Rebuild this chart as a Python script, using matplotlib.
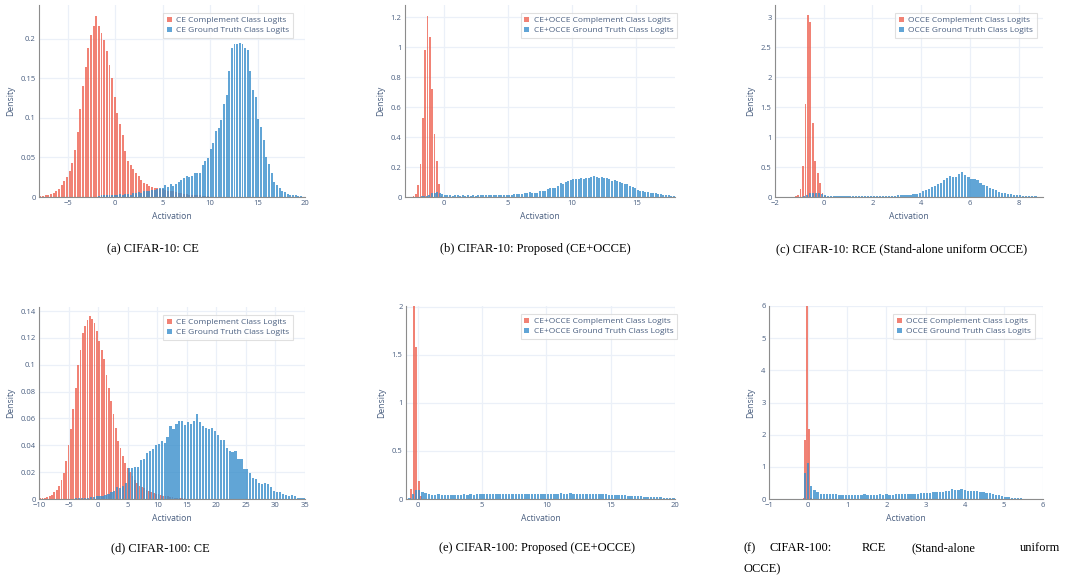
import numpy as np
import matplotlib.pyplot as plt
from matplotlib.ticker import FuncFormatter

W, H = 1068, 579

# ---- histogram densities (bin start, bin width, heights) ----
# (a) CIFAR-10: CE
a_red_start, a_red_bin = -8.0, 0.28
a_red = [0.001, 0.001, 0.002, 0.003, 0.004, 0.005, 0.007, 0.010, 0.015, 0.020,
         0.025, 0.033, 0.043, 0.060, 0.082, 0.112, 0.140, 0.165, 0.188, 0.205,
         0.216, 0.229, 0.217, 0.208, 0.199, 0.185, 0.167, 0.150, 0.126, 0.106,
         0.093, 0.079, 0.058, 0.046, 0.041, 0.036, 0.031, 0.026, 0.022, 0.018,
         0.016, 0.014, 0.013, 0.012, 0.011, 0.010, 0.010, 0.009, 0.008, 0.007,
         0.007, 0.006, 0.005, 0.005, 0.004, 0.004, 0.003, 0.003, 0.002, 0.002,
         0.002, 0.001, 0.001, 0.001]
a_blue_start, a_blue_bin = -1.84, 0.28
a_blue = [0.001, 0.002, 0.002, 0.002, 0.003, 0.002, 0.003, 0.003, 0.004, 0.003,
          0.004, 0.004, 0.003, 0.005, 0.005, 0.006, 0.005, 0.007, 0.008, 0.007,
          0.009, 0.009, 0.010, 0.011, 0.012, 0.015, 0.013, 0.016, 0.014, 0.017,
          0.019, 0.021, 0.024, 0.026, 0.025, 0.027, 0.030, 0.031, 0.031, 0.040,
          0.046, 0.049, 0.061, 0.068, 0.083, 0.087, 0.098, 0.118, 0.129, 0.160,
          0.188, 0.194, 0.194, 0.195, 0.194, 0.188, 0.186, 0.160, 0.135, 0.127,
          0.099, 0.089, 0.072, 0.051, 0.042, 0.030, 0.019, 0.015, 0.011, 0.008,
          0.006, 0.004, 0.003, 0.002, 0.002, 0.001, 0.001]

# (b) CIFAR-10: CE+OCCE
b_red_start, b_red_bin = -2.42, 0.18
b_red = [0.004, 0.02, 0.08, 0.22, 0.53, 0.98, 1.21, 1.07, 0.72, 0.42, 0.24, 0.09, 0.01]
b_blue_start, b_blue_bin = -2.0, 0.2
b_blue = [0.002, 0.004, 0.006, 0.010, 0.016, 0.024, 0.030, 0.032, 0.028, 0.022,
          0.016, 0.014, 0.012, 0.010, 0.011, 0.013, 0.010, 0.011, 0.010, 0.011,
          0.010, 0.011, 0.010, 0.012, 0.013, 0.012, 0.013, 0.012, 0.013, 0.012,
          0.013, 0.014, 0.013, 0.014, 0.015, 0.014, 0.016, 0.018, 0.020, 0.019,
          0.021, 0.025, 0.029, 0.031, 0.030, 0.029, 0.030, 0.038, 0.040, 0.043,
          0.052, 0.058, 0.063, 0.062, 0.076, 0.094, 0.090, 0.101, 0.108, 0.112,
          0.118, 0.120, 0.121, 0.125, 0.122, 0.128, 0.130, 0.132, 0.140, 0.136,
          0.125, 0.135, 0.128, 0.129, 0.117, 0.108, 0.112, 0.110, 0.102, 0.096,
          0.090, 0.086, 0.075, 0.064, 0.057, 0.050, 0.043, 0.040, 0.036, 0.032,
          0.030, 0.027, 0.025, 0.021, 0.020, 0.016, 0.013, 0.011, 0.008, 0.007]

# (c) CIFAR-10: RCE
c_red_start, c_red_bin = -1.2, 0.1
c_red = [0.01, 0.03, 0.13, 0.52, 1.55, 3.04, 2.92, 1.24, 0.61, 0.40, 0.23, 0.06, 0.01]
c_blue_start, c_blue_bin = -1.0, 0.125
c_blue = [0.002, 0.010, 0.040, 0.065, 0.070, 0.068, 0.060, 0.045, 0.032, 0.025,
          0.022, 0.020, 0.018, 0.017, 0.016, 0.015, 0.016, 0.015, 0.015, 0.014,
          0.015, 0.014, 0.015, 0.016, 0.017, 0.016, 0.018, 0.019, 0.021, 0.022,
          0.024, 0.025, 0.026, 0.028, 0.030, 0.033, 0.036, 0.042, 0.055, 0.070,
          0.100, 0.115, 0.140, 0.165, 0.190, 0.215, 0.240, 0.280, 0.310, 0.350,
          0.340, 0.335, 0.380, 0.410, 0.370, 0.335, 0.300, 0.300, 0.290, 0.240,
          0.200, 0.180, 0.145, 0.140, 0.110, 0.090, 0.070, 0.060, 0.050, 0.045,
          0.038, 0.030, 0.028, 0.022, 0.020, 0.015, 0.012, 0.010, 0.008, 0.006]

# (d) CIFAR-100: CE
d_red_start, d_red_bin = -10.0, 0.4
d_red = [0.0005, 0.0005, 0.001, 0.0015, 0.002, 0.003, 0.005, 0.007, 0.010, 0.014,
         0.019, 0.028, 0.040, 0.052, 0.067, 0.083, 0.100, 0.111, 0.124, 0.129,
         0.133, 0.136, 0.134, 0.131, 0.125, 0.118, 0.111, 0.104, 0.092, 0.083,
         0.073, 0.063, 0.053, 0.043, 0.038, 0.032, 0.027, 0.023, 0.020, 0.017,
         0.014, 0.012, 0.010, 0.009, 0.008, 0.007, 0.006, 0.005, 0.0045, 0.004,
         0.0035, 0.003, 0.0025, 0.002, 0.002, 0.0015, 0.0015, 0.001, 0.001, 0.001,
         0.0005, 0.0005]
d_blue_start, d_blue_bin = -5.0, 0.5
d_blue = [0.0003, 0.0003, 0.0005, 0.0005, 0.001, 0.0008, 0.001, 0.0012, 0.0015, 0.002,
          0.002, 0.0025, 0.003, 0.004, 0.005, 0.006, 0.009, 0.008, 0.010, 0.012,
          0.023, 0.023, 0.024, 0.024, 0.029, 0.030, 0.034, 0.036, 0.037, 0.040,
          0.041, 0.043, 0.042, 0.046, 0.054, 0.052, 0.056, 0.058, 0.058, 0.055,
          0.057, 0.056, 0.058, 0.063, 0.057, 0.054, 0.053, 0.052, 0.053, 0.051,
          0.048, 0.044, 0.044, 0.038, 0.036, 0.035, 0.036, 0.030, 0.030, 0.022,
          0.022, 0.019, 0.016, 0.015, 0.012, 0.011, 0.012, 0.011, 0.009, 0.006,
          0.005, 0.005, 0.004, 0.003, 0.002, 0.003, 0.002, 0.001, 0.001, 0.0005]

# (e) CIFAR-100: CE+OCCE
e_red_start, e_red_bin = -0.8, 0.2
e_red = [0.005, 0.10, 2.4, 1.58, 0.19, 0.03]
e_blue_start, e_blue_bin = -0.75, 0.25
e_blue = [0.010, 0.050, 0.090, 0.093, 0.075, 0.058, 0.050, 0.045, 0.045, 0.047,
          0.046, 0.045, 0.046, 0.044, 0.045, 0.046, 0.046, 0.047, 0.045, 0.047,
          0.045, 0.048, 0.048, 0.047, 0.048, 0.047, 0.053, 0.052, 0.049, 0.050,
          0.049, 0.051, 0.053, 0.052, 0.053, 0.052, 0.053, 0.054, 0.055, 0.054,
          0.055, 0.055, 0.054, 0.056, 0.057, 0.057, 0.056, 0.058, 0.055, 0.057,
          0.058, 0.056, 0.054, 0.057, 0.056, 0.054, 0.053, 0.052, 0.052, 0.050,
          0.049, 0.047, 0.046, 0.046, 0.043, 0.040, 0.038, 0.037, 0.035, 0.033,
          0.030, 0.029, 0.027, 0.025, 0.024, 0.022, 0.020, 0.019, 0.017, 0.015,
          0.014, 0.012, 0.010]

# (f) CIFAR-100: RCE
f_red_start, f_red_bin = -0.2, 0.05
f_red = [0.005, 0.02, 1.84, 6.5, 2.17, 0.03]
f_blue_start, f_blue_bin = -0.12, 0.08
f_blue = [0.82, 1.13, 0.41, 0.28, 0.23, 0.17, 0.16, 0.155, 0.15, 0.145,
          0.15, 0.135, 0.13, 0.13, 0.125, 0.12, 0.125, 0.12, 0.135, 0.145,
          0.13, 0.125, 0.135, 0.13, 0.14, 0.135, 0.14, 0.125, 0.135, 0.14,
          0.155, 0.15, 0.16, 0.165, 0.17, 0.165, 0.17, 0.175, 0.18, 0.19,
          0.20, 0.21, 0.21, 0.215, 0.23, 0.245, 0.26, 0.30, 0.29, 0.29,
          0.31, 0.27, 0.25, 0.25, 0.25, 0.24, 0.23, 0.21, 0.20, 0.18,
          0.16, 0.13, 0.11, 0.085, 0.07, 0.055, 0.045, 0.035, 0.025, 0.02,
          0.015, 0.012, 0.01, 0.008, 0.006, 0.005]

captions = ["(a) CIFAR-10: CE",
            "(b) CIFAR-10: Proposed (CE+OCCE)",
            "(c) CIFAR-10: RCE (Stand-alone uniform OCCE)",
            "(d) CIFAR-100: CE",
            "(e) CIFAR-100: Proposed (CE+OCCE)"]

RED = '#EE6352'
BLUE = '#3A8FCC'
FONT_COL = '#4a5f80'
plt.rcParams['font.family'] = ['Open Sans', 'DejaVu Sans']


def fmt(v, pos):
    return f"{v:g}".replace('-', '\u2212')


def panel(box, red, blue, names, xlim, xticks, ylim, yticks, leg_right):
    left, top, right, bottom = box
    ax = fig.add_axes([left / W, 1 - bottom / H, (right - left) / W, (bottom - top) / H])
    for (start, width, vals), col, name in zip((red, blue), (RED, BLUE), names):
        vals = np.asarray(vals)
        centers = start + width * (np.arange(len(vals)) + 0.5)
        ax.bar(centers, vals, width=width * 0.74, color=col, alpha=0.8,
               linewidth=0, label=name)
    ax.set_xlim(*xlim)
    ax.set_ylim(*ylim)
    ax.set_xticks(xticks)
    ax.set_yticks(yticks)
    ax.xaxis.set_major_formatter(FuncFormatter(fmt))
    ax.yaxis.set_major_formatter(FuncFormatter(fmt))
    ax.grid(color='#EBF0F8', linewidth=0.9)
    ax.set_axisbelow(True)
    for s in ('top', 'right'):
        ax.spines[s].set_visible(False)
    for s in ('left', 'bottom'):
        ax.spines[s].set_color('#8c8c8c')
        ax.spines[s].set_linewidth(0.8)
    ax.tick_params(length=0, pad=2.5, labelsize=5.5, labelcolor=FONT_COL)
    ax.set_xlabel('Activation', fontsize=6.2, color=FONT_COL, labelpad=3)
    ax.set_ylabel('Density', fontsize=6.2, color=FONT_COL, labelpad=4)
    leg = ax.legend(loc='upper right', bbox_to_anchor=(leg_right / W, 1 - (top + 8) / H),
                    bbox_transform=fig.transFigure, borderaxespad=0, fontsize=6,
                    frameon=True, fancybox=False, handlelength=0.6, handleheight=0.6,
                    handletextpad=0.5, labelspacing=0.3, borderpad=0.45)
    leg.get_frame().set_edgecolor('#d9d9d9')
    leg.get_frame().set_linewidth(0.8)
    for t in leg.get_texts():
        t.set_color(FONT_COL)
    return ax


fig = plt.figure(figsize=(W / 100, H / 100), dpi=100)

ce = ('CE Complement Class Logits', 'CE Ground Truth Class Logits')
pr = ('CE+OCCE Complement Class Logits', 'CE+OCCE Ground Truth Class Logits')
oc = ('OCCE Complement Class Logits', 'OCCE Ground Truth Class Logits')

panel((39, 5, 305, 197), (a_red_start, a_red_bin, a_red), (a_blue_start, a_blue_bin, a_blue),
      ce, (-8, 20), [-5, 0, 5, 10, 15, 20], (0, 0.243), np.arange(0, 0.21, 0.05), 293)
panel((405, 5, 675, 197), (b_red_start, b_red_bin, b_red), (b_blue_start, b_blue_bin, b_blue),
      pr, (-3, 18), [0, 5, 10, 15], (0, 1.28), np.arange(0, 1.21, 0.2), 677)
panel((775, 5, 1043, 197), (c_red_start, c_red_bin, c_red), (c_blue_start, c_blue_bin, c_blue),
      oc, (-2, 9), [-2, 0, 2, 4, 6, 8], (0, 3.21), np.arange(0, 3.01, 0.5), 1037)
panel((39, 307, 305, 499), (d_red_start, d_red_bin, d_red), (d_blue_start, d_blue_bin, d_blue),
      ce, (-10, 35), np.arange(-10, 36, 5), (0, 0.143), np.arange(0, 0.141, 0.02), 293)
panel((406, 306, 675, 499), (e_red_start, e_red_bin, e_red), (e_blue_start, e_blue_bin, e_blue),
      pr, (-0.9, 20), [0, 5, 10, 15, 20], (0, 2.007), np.arange(0, 2.01, 0.5), 677)
panel((769, 306, 1043, 499), (f_red_start, f_red_bin, f_red), (f_blue_start, f_blue_bin, f_blue),
      oc, (-1, 6), np.arange(-1, 7, 1), (0, 6.0), np.arange(0, 6.1, 1), 1035)

cap = dict(family='Liberation Serif', fontsize=9, color='black', va='center')
fig.text(153 / W, 1 - 249 / H, captions[0], ha='center', **cap)
fig.text(535 / W, 1 - 249 / H, captions[1], ha='center', **cap)
fig.text(902 / W, 1 - 249 / H, captions[2], ha='center', **cap)
fig.text(160 / W, 1 - 548 / H, captions[3], ha='center', **cap)
fig.text(537 / W, 1 - 548 / H, captions[4], ha='center', **cap)
# justified two-line caption (f)
for word, xp in [("(f)", 743), ("CIFAR-100:", 770), ("RCE", 862),
                 ("(Stand-alone", 912), ("uniform", 1020)]:
    fig.text(xp / W, 1 - 548 / H, word, ha='left', **cap)
fig.text(743 / W, 1 - 569 / H, "OCCE)", ha='left', **cap)

fig.savefig('out.png', dpi=100, facecolor='white')
